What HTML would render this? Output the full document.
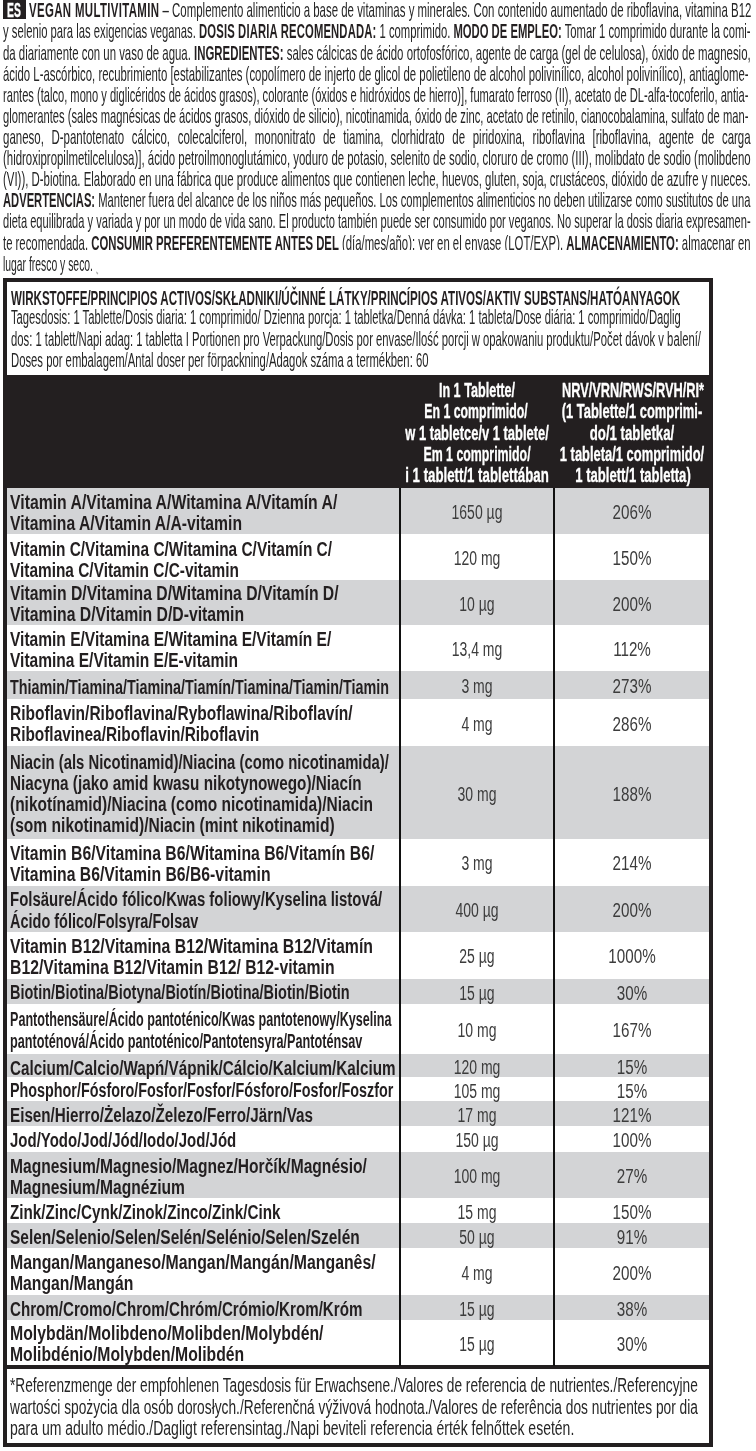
<!DOCTYPE html><html><head><meta charset="utf-8"><title>Vegan Multivitamin</title><style>
*{margin:0;padding:0;box-sizing:border-box}
html,body{width:756px;height:1451px;overflow:hidden;background:#fff}
body{position:relative;font-family:"Liberation Sans",sans-serif;color:#262626}
.ln{position:absolute;white-space:nowrap;transform-origin:0 0}
.ln b{font-weight:700;color:#231f20}
.rn{font-weight:700;color:#231f20}
.dk{font-weight:700;color:#fff;-webkit-text-stroke:0.35px #fff}
.vl{color:#3c3c3c}
.bg{position:absolute;left:7px;width:702px;background:#d3d4d6}
.blk{position:absolute;background:#231f20}
.vline{position:absolute;background:#111}
.wh{position:absolute;background:#fff}
</style></head><body>
<div class="blk" style="left:3px;top:0;width:22.5px;height:19.4px;"></div>
<div class="ln dk" style="left:7.0px;top:1.09px;font-size:19.5px;line-height:19.5px;transform:scaleX(0.53);">ES</div>
<div class="bg" style="top:487.50px;height:46.50px;"></div><div class="bg" style="top:580.20px;height:44.60px;"></div><div class="bg" style="top:671.30px;height:27.50px;"></div><div class="bg" style="top:746.00px;height:92.80px;"></div><div class="bg" style="top:885.70px;height:45.90px;"></div><div class="bg" style="top:978.70px;height:25.30px;"></div><div class="bg" style="top:1053.60px;height:23.90px;"></div><div class="bg" style="top:1101.20px;height:25.00px;"></div><div class="bg" style="top:1151.50px;height:46.70px;"></div><div class="bg" style="top:1223.00px;height:25.00px;"></div><div class="bg" style="top:1295.20px;height:24.90px;"></div>
<div class="blk" style="left:3px;top:375px;width:710px;height:112.5px;"></div>
<div class="blk" style="left:3px;top:278px;width:710px;height:4px;"></div>
<div class="blk" style="left:3px;top:278px;width:4px;height:1169px;"></div>
<div class="blk" style="left:709px;top:278px;width:4px;height:1169px;"></div>
<div class="blk" style="left:3px;top:1443px;width:710px;height:4px;"></div>
<div class="blk" style="left:3px;top:1365.3px;width:710px;height:4px;"></div>
<div class="vline" style="left:399px;top:487.5px;width:2px;height:878px;"></div>
<div class="vline" style="left:553px;top:487.5px;width:2px;height:878px;"></div>
<div class="ln pt" style="left:29.40px;top:1.34px;font-size:19.80px;line-height:19.80px;width:1249.16px;text-align:justify;text-align-last:justify;transform:scaleX(0.5783);"><b style="letter-spacing:0.60px">VEGAN MULTIVITAMIN</b> – Complemento alimenticio a base de vitaminas y minerales. Con contenido aumentado de riboflavina, vitamina B12</div>
<div class="ln pt" style="left:3.00px;top:22.24px;font-size:19.80px;line-height:19.80px;width:1312.73px;text-align:justify;text-align-last:justify;transform:scaleX(0.5695);">y selenio para las exigencias veganas. <b style="letter-spacing:0.27px">DOSIS DIARIA RECOMENDADA:</b> 1 comprimido. <b>MODO DE EMPLEO:</b> Tomar 1 comprimido durante la comi-</div>
<div class="ln pt" style="left:3.00px;top:43.64px;font-size:19.80px;line-height:19.80px;width:1295.31px;text-align:justify;text-align-last:justify;transform:scaleX(0.5772);">da diariamente con un vaso de agua. <b>INGREDIENTES:</b> sales cálcicas de ácido ortofosfórico, agente de carga (gel de celulosa), óxido de magnesio,</div>
<div class="ln pt" style="left:3.00px;top:65.04px;font-size:19.80px;line-height:19.80px;width:1297.47px;text-align:justify;text-align-last:justify;transform:scaleX(0.5746);">ácido L-ascórbico, recubrimiento [estabilizantes (copolímero de injerto de glicol de polietileno de alcohol polivinílico, alcohol polivinílico), antiaglome-</div>
<div class="ln pt" style="left:3.00px;top:85.84px;font-size:19.80px;line-height:19.80px;width:1325.98px;text-align:justify;text-align-last:justify;transform:scaleX(0.5622);">rantes (talco, mono y diglicéridos de ácidos grasos), colorante (óxidos e hidróxidos de hierro)], fumarato ferroso (II), acetato de DL-alfa-tocoferilo, antia-</div>
<div class="ln pt" style="left:3.00px;top:107.24px;font-size:19.80px;line-height:19.80px;width:1317.27px;text-align:justify;text-align-last:justify;transform:scaleX(0.5659);">glomerantes (sales magnésicas de ácidos grasos, dióxido de silicio), nicotinamida, óxido de zinc, acetato de retinilo, cianocobalamina, sulfato de man-</div>
<div class="ln pt" style="left:3.00px;top:127.94px;font-size:19.80px;line-height:19.80px;width:1288.97px;text-align:justify;text-align-last:justify;transform:scaleX(0.5800);">ganeso, D-pantotenato cálcico, colecalciferol, mononitrato de tiamina, clorhidrato de piridoxina, riboflavina [riboflavina, agente de carga</div>
<div class="ln pt" style="left:3.00px;top:149.34px;font-size:19.80px;line-height:19.80px;width:1294.16px;text-align:justify;text-align-last:justify;transform:scaleX(0.5777);">(hidroxipropilmetilcelulosa)], ácido petroilmonoglutámico, yoduro de potasio, selenito de sodio, cloruro de cromo (III), molibdato de sodio (molibdeno</div>
<div class="ln pt" style="left:3.00px;top:170.14px;font-size:19.80px;line-height:19.80px;width:1294.27px;text-align:justify;text-align-last:justify;transform:scaleX(0.5776);">(VI)), D-biotina. Elaborado en una fábrica que produce alimentos que contienen leche, huevos, gluten, soja, crustáceos, dióxido de azufre y nueces.</div>
<div class="ln pt" style="left:3.00px;top:190.84px;font-size:19.80px;line-height:19.80px;width:1320.53px;text-align:justify;text-align-last:justify;transform:scaleX(0.5661);"><b>ADVERTENCIAS:</b> Mantener fuera del alcance de los niños más pequeños. Los complementos alimenticios no deben utilizarse como sustitutos de una</div>
<div class="ln pt" style="left:3.00px;top:212.04px;font-size:19.80px;line-height:19.80px;width:1332.72px;text-align:justify;text-align-last:justify;transform:scaleX(0.5610);">dieta equilibrada y variada y por un modo de vida sano.  El producto también puede ser consumido por veganos. No superar la dosis diaria expresamen-</div>
<div class="ln pt" style="left:3.00px;top:233.54px;font-size:19.80px;line-height:19.80px;width:1304.83px;text-align:justify;text-align-last:justify;transform:scaleX(0.5729);">te recomendada. <b>CONSUMIR PREFERENTEMENTE ANTES DEL</b> (día/mes/año): ver en el envase (LOT/EXP). <b>ALMACENAMIENTO:</b> almacenar en</div>
<div class="ln pt" style="left:3.00px;top:255.44px;font-size:19.80px;line-height:19.80px;transform:scaleX(0.5247);">lugar fresco y seco.</div>
<div class="ln pt" style="left:10.80px;top:287.67px;font-size:20.00px;line-height:20.00px;width:1155.27px;text-align:justify;text-align-last:justify;transform:scaleX(0.5793);"><b>WIRKSTOFFE/PRINCIPIOS ACTIVOS/SKŁADNIKI/ÚČINNÉ LÁTKY/PRINCÍPIOS ATIVOS/AKTIV SUBSTANS/HATÓANYAGOK</b></div>
<div class="ln pt" style="left:10.80px;top:308.31px;font-size:19.60px;line-height:19.60px;width:1168.27px;text-align:justify;text-align-last:justify;transform:scaleX(0.5733);">Tagesdosis: 1 Tablette/Dosis diaria: 1 comprimido/ Dzienna porcja: 1 tabletka/Denná dávka: 1 tableta/Dose diária: 1 comprimido/Daglig</div>
<div class="ln pt" style="left:10.80px;top:329.51px;font-size:19.60px;line-height:19.60px;width:1200.31px;text-align:justify;text-align-last:justify;transform:scaleX(0.5748);">dos: 1 tablett/Napi adag: 1 tabletta I Portionen pro Verpackung/Dosis por envase/Ilość porcji w opakowaniu produktu/Počet dávok v balení/</div>
<div class="ln pt" style="left:10.80px;top:351.21px;font-size:19.60px;line-height:19.60px;transform:scaleX(0.5764);">Doses por embalagem/Antal doser per förpackning/Adagok száma a termékben: 60</div>
<div class="ln dk" style="left:276.90px;top:380.07px;width:400px;font-size:20.00px;line-height:20.00px;text-align:center;transform:scaleX(0.6310);transform-origin:50% 0;">In 1 Tablette/</div>
<div class="ln dk" style="left:276.25px;top:401.47px;width:400px;font-size:20.00px;line-height:20.00px;text-align:center;transform:scaleX(0.6168);transform-origin:50% 0;">En 1 comprimido/</div>
<div class="ln dk" style="left:276.55px;top:422.87px;width:400px;font-size:20.00px;line-height:20.00px;text-align:center;transform:scaleX(0.6454);transform-origin:50% 0;">w 1 tabletce/v 1 tablete/</div>
<div class="ln dk" style="left:276.90px;top:444.37px;width:400px;font-size:20.00px;line-height:20.00px;text-align:center;transform:scaleX(0.6183);transform-origin:50% 0;">Em 1 comprimido/</div>
<div class="ln dk" style="left:277.25px;top:465.27px;width:400px;font-size:20.00px;line-height:20.00px;text-align:center;transform:scaleX(0.6621);transform-origin:50% 0;">i 1 tablett/1 tablettában</div>
<div class="ln dk" style="left:432.50px;top:380.07px;width:400px;font-size:20.00px;line-height:20.00px;text-align:center;transform:scaleX(0.6398);transform-origin:50% 0;">NRV/VRN/RWS/RVH/RI*</div>
<div class="ln dk" style="left:432.20px;top:401.47px;width:400px;font-size:20.00px;line-height:20.00px;text-align:center;transform:scaleX(0.6457);transform-origin:50% 0;">(1 Tablette/1 comprimi-</div>
<div class="ln dk" style="left:431.55px;top:422.87px;width:400px;font-size:20.00px;line-height:20.00px;text-align:center;transform:scaleX(0.6611);transform-origin:50% 0;">do/1 tabletka/</div>
<div class="ln dk" style="left:432.15px;top:444.37px;width:400px;font-size:20.00px;line-height:20.00px;text-align:center;transform:scaleX(0.6460);transform-origin:50% 0;">1 tableta/1 comprimido/</div>
<div class="ln dk" style="left:432.75px;top:465.27px;width:400px;font-size:20.00px;line-height:20.00px;text-align:center;transform:scaleX(0.6536);transform-origin:50% 0;">1 tablett/1 tabletta)</div>
<div class="ln rn" style="left:10.30px;top:492.17px;font-size:20.00px;line-height:20.00px;transform:scaleX(0.7892);">Vitamin A/Vitamina A/Witamina A/Vitamín A/</div>
<div class="ln rn" style="left:10.30px;top:513.27px;font-size:20.00px;line-height:20.00px;transform:scaleX(0.7848);">Vitamina A/Vitamin A/A-vitamin</div>
<div class="ln vl" style="left:277.00px;top:501.92px;width:400px;font-size:20.00px;line-height:20.00px;text-align:center;transform:scaleX(0.7000);transform-origin:50% 0;">1650 µg</div>
<div class="ln vl" style="left:432.00px;top:501.92px;width:400px;font-size:20.00px;line-height:20.00px;text-align:center;transform:scaleX(0.7595);transform-origin:50% 0;">206%</div>
<div class="ln rn" style="left:10.30px;top:538.97px;font-size:20.00px;line-height:20.00px;transform:scaleX(0.7709);">Vitamin C/Vitamina C/Witamina C/Vitamín C/</div>
<div class="ln rn" style="left:10.30px;top:560.17px;font-size:20.00px;line-height:20.00px;transform:scaleX(0.7704);">Vitamina C/Vitamin C/C-vitamin</div>
<div class="ln vl" style="left:277.00px;top:548.27px;width:400px;font-size:20.00px;line-height:20.00px;text-align:center;transform:scaleX(0.7000);transform-origin:50% 0;">120 mg</div>
<div class="ln vl" style="left:432.00px;top:548.27px;width:400px;font-size:20.00px;line-height:20.00px;text-align:center;transform:scaleX(0.7595);transform-origin:50% 0;">150%</div>
<div class="ln rn" style="left:10.30px;top:582.67px;font-size:20.00px;line-height:20.00px;transform:scaleX(0.7867);">Vitamin D/Vitamina D/Witamina D/Vitamín D/</div>
<div class="ln rn" style="left:10.30px;top:603.77px;font-size:20.00px;line-height:20.00px;transform:scaleX(0.7879);">Vitamina D/Vitamin D/D-vitamin</div>
<div class="ln vl" style="left:277.00px;top:593.67px;width:400px;font-size:20.00px;line-height:20.00px;text-align:center;transform:scaleX(0.7000);transform-origin:50% 0;">10 µg</div>
<div class="ln vl" style="left:432.00px;top:593.67px;width:400px;font-size:20.00px;line-height:20.00px;text-align:center;transform:scaleX(0.7595);transform-origin:50% 0;">200%</div>
<div class="ln rn" style="left:10.30px;top:628.87px;font-size:20.00px;line-height:20.00px;transform:scaleX(0.7772);">Vitamin E/Vitamina E/Witamina E/Vitamín E/</div>
<div class="ln rn" style="left:10.30px;top:650.07px;font-size:20.00px;line-height:20.00px;transform:scaleX(0.7763);">Vitamina E/Vitamin E/E-vitamin</div>
<div class="ln vl" style="left:277.00px;top:639.22px;width:400px;font-size:20.00px;line-height:20.00px;text-align:center;transform:scaleX(0.7000);transform-origin:50% 0;">13,4 mg</div>
<div class="ln vl" style="left:432.00px;top:639.22px;width:400px;font-size:20.00px;line-height:20.00px;text-align:center;transform:scaleX(0.7595);transform-origin:50% 0;">112%</div>
<div class="ln rn" style="left:10.30px;top:676.57px;font-size:20.00px;line-height:20.00px;transform:scaleX(0.7177);">Thiamin/Tiamina/Tiamina/Tiamín/Tiamina/Tiamin/Tiamin</div>
<div class="ln vl" style="left:277.00px;top:676.22px;width:400px;font-size:20.00px;line-height:20.00px;text-align:center;transform:scaleX(0.7000);transform-origin:50% 0;">3 mg</div>
<div class="ln vl" style="left:432.00px;top:676.22px;width:400px;font-size:20.00px;line-height:20.00px;text-align:center;transform:scaleX(0.7595);transform-origin:50% 0;">273%</div>
<div class="ln rn" style="left:10.30px;top:702.97px;font-size:20.00px;line-height:20.00px;transform:scaleX(0.7766);">Riboflavin/Riboflavina/Ryboflawina/Riboflavín/</div>
<div class="ln rn" style="left:10.30px;top:724.17px;font-size:20.00px;line-height:20.00px;transform:scaleX(0.7706);">Riboflavinea/Riboflavin/Riboflavin</div>
<div class="ln vl" style="left:277.00px;top:713.57px;width:400px;font-size:20.00px;line-height:20.00px;text-align:center;transform:scaleX(0.7000);transform-origin:50% 0;">4 mg</div>
<div class="ln vl" style="left:432.00px;top:713.57px;width:400px;font-size:20.00px;line-height:20.00px;text-align:center;transform:scaleX(0.7595);transform-origin:50% 0;">286%</div>
<div class="ln rn" style="left:10.30px;top:751.87px;font-size:20.00px;line-height:20.00px;transform:scaleX(0.7428);">Niacin (als Nicotinamid)/Niacina (como nicotinamida)/</div>
<div class="ln rn" style="left:10.30px;top:773.07px;font-size:20.00px;line-height:20.00px;transform:scaleX(0.7641);">Niacyna (jako amid kwasu nikotynowego)/Niacín</div>
<div class="ln rn" style="left:10.30px;top:794.27px;font-size:20.00px;line-height:20.00px;transform:scaleX(0.7741);">(nikotínamid)/Niacina (como nicotinamida)/Niacin</div>
<div class="ln rn" style="left:10.30px;top:814.87px;font-size:20.00px;line-height:20.00px;transform:scaleX(0.7790);">(som nikotinamid)/Niacin (mint nikotinamid)</div>
<div class="ln vl" style="left:277.00px;top:783.57px;width:400px;font-size:20.00px;line-height:20.00px;text-align:center;transform:scaleX(0.7000);transform-origin:50% 0;">30 mg</div>
<div class="ln vl" style="left:432.00px;top:783.57px;width:400px;font-size:20.00px;line-height:20.00px;text-align:center;transform:scaleX(0.7595);transform-origin:50% 0;">188%</div>
<div class="ln rn" style="left:10.30px;top:843.17px;font-size:20.00px;line-height:20.00px;transform:scaleX(0.7882);">Vitamin B6/Vitamina B6/Witamina B6/Vitamín B6/</div>
<div class="ln rn" style="left:10.30px;top:864.37px;font-size:20.00px;line-height:20.00px;transform:scaleX(0.7885);">Vitamina B6/Vitamin B6/B6-vitamin</div>
<div class="ln vl" style="left:277.00px;top:853.42px;width:400px;font-size:20.00px;line-height:20.00px;text-align:center;transform:scaleX(0.7000);transform-origin:50% 0;">3 mg</div>
<div class="ln vl" style="left:432.00px;top:853.42px;width:400px;font-size:20.00px;line-height:20.00px;text-align:center;transform:scaleX(0.7595);transform-origin:50% 0;">214%</div>
<div class="ln rn" style="left:10.30px;top:888.97px;font-size:20.00px;line-height:20.00px;transform:scaleX(0.7475);">Folsäure/Ácido fólico/Kwas foliowy/Kyselina listová/</div>
<div class="ln rn" style="left:10.30px;top:910.87px;font-size:20.00px;line-height:20.00px;transform:scaleX(0.7241);">Ácido fólico/Folsyra/Folsav</div>
<div class="ln vl" style="left:277.00px;top:899.82px;width:400px;font-size:20.00px;line-height:20.00px;text-align:center;transform:scaleX(0.7000);transform-origin:50% 0;">400 µg</div>
<div class="ln vl" style="left:432.00px;top:899.82px;width:400px;font-size:20.00px;line-height:20.00px;text-align:center;transform:scaleX(0.7595);transform-origin:50% 0;">200%</div>
<div class="ln rn" style="left:10.30px;top:935.87px;font-size:20.00px;line-height:20.00px;transform:scaleX(0.7910);">Vitamin B12/Vitamina B12/Witamina B12/Vitamín</div>
<div class="ln rn" style="left:10.30px;top:956.97px;font-size:20.00px;line-height:20.00px;transform:scaleX(0.7885);">B12/Vitamina B12/Vitamin B12/ B12-vitamin</div>
<div class="ln vl" style="left:277.00px;top:946.32px;width:400px;font-size:20.00px;line-height:20.00px;text-align:center;transform:scaleX(0.7000);transform-origin:50% 0;">25 µg</div>
<div class="ln vl" style="left:432.00px;top:946.32px;width:400px;font-size:20.00px;line-height:20.00px;text-align:center;transform:scaleX(0.7595);transform-origin:50% 0;">1000%</div>
<div class="ln rn" style="left:10.30px;top:981.57px;font-size:20.00px;line-height:20.00px;transform:scaleX(0.7246);">Biotin/Biotina/Biotyna/Biotín/Biotina/Biotin/Biotin</div>
<div class="ln vl" style="left:277.00px;top:982.52px;width:400px;font-size:20.00px;line-height:20.00px;text-align:center;transform:scaleX(0.7000);transform-origin:50% 0;">15 µg</div>
<div class="ln vl" style="left:432.00px;top:982.52px;width:400px;font-size:20.00px;line-height:20.00px;text-align:center;transform:scaleX(0.7595);transform-origin:50% 0;">30%</div>
<div class="ln rn" style="left:10.30px;top:1008.87px;font-size:20.00px;line-height:20.00px;transform:scaleX(0.6299);">Pantothensäure/Ácido pantoténico/Kwas pantotenowy/Kyselina</div>
<div class="ln rn" style="left:10.30px;top:1030.57px;font-size:20.00px;line-height:20.00px;transform:scaleX(0.6342);">pantoténová/Ácido pantoténico/Pantotensyra/Pantoténsav</div>
<div class="ln vl" style="left:277.00px;top:1019.97px;width:400px;font-size:20.00px;line-height:20.00px;text-align:center;transform:scaleX(0.7000);transform-origin:50% 0;">10 mg</div>
<div class="ln vl" style="left:432.00px;top:1019.97px;width:400px;font-size:20.00px;line-height:20.00px;text-align:center;transform:scaleX(0.7595);transform-origin:50% 0;">167%</div>
<div class="ln rn" style="left:10.30px;top:1057.57px;font-size:20.00px;line-height:20.00px;transform:scaleX(0.7618);">Calcium/Calcio/Wapń/Vápnik/Cálcio/Kalcium/Kalcium</div>
<div class="ln vl" style="left:277.00px;top:1056.72px;width:400px;font-size:20.00px;line-height:20.00px;text-align:center;transform:scaleX(0.7000);transform-origin:50% 0;">120 mg</div>
<div class="ln vl" style="left:432.00px;top:1056.72px;width:400px;font-size:20.00px;line-height:20.00px;text-align:center;transform:scaleX(0.7595);transform-origin:50% 0;">15%</div>
<div class="ln rn" style="left:10.30px;top:1080.37px;font-size:20.00px;line-height:20.00px;transform:scaleX(0.7174);">Phosphor/Fósforo/Fosfor/Fosfor/Fósforo/Fosfor/Foszfor</div>
<div class="ln vl" style="left:277.00px;top:1080.52px;width:400px;font-size:20.00px;line-height:20.00px;text-align:center;transform:scaleX(0.7000);transform-origin:50% 0;">105 mg</div>
<div class="ln vl" style="left:432.00px;top:1080.52px;width:400px;font-size:20.00px;line-height:20.00px;text-align:center;transform:scaleX(0.7595);transform-origin:50% 0;">15%</div>
<div class="ln rn" style="left:10.30px;top:1104.67px;font-size:20.00px;line-height:20.00px;transform:scaleX(0.7612);">Eisen/Hierro/Żelazo/Železo/Ferro/Järn/Vas</div>
<div class="ln vl" style="left:277.00px;top:1104.87px;width:400px;font-size:20.00px;line-height:20.00px;text-align:center;transform:scaleX(0.7000);transform-origin:50% 0;">17 mg</div>
<div class="ln vl" style="left:432.00px;top:1104.87px;width:400px;font-size:20.00px;line-height:20.00px;text-align:center;transform:scaleX(0.7595);transform-origin:50% 0;">121%</div>
<div class="ln rn" style="left:10.30px;top:1130.07px;font-size:20.00px;line-height:20.00px;transform:scaleX(0.7494);">Jod/Yodo/Jod/Jód/Iodo/Jod/Jód</div>
<div class="ln vl" style="left:277.00px;top:1130.02px;width:400px;font-size:20.00px;line-height:20.00px;text-align:center;transform:scaleX(0.7000);transform-origin:50% 0;">150 µg</div>
<div class="ln vl" style="left:432.00px;top:1130.02px;width:400px;font-size:20.00px;line-height:20.00px;text-align:center;transform:scaleX(0.7595);transform-origin:50% 0;">100%</div>
<div class="ln rn" style="left:10.30px;top:1155.77px;font-size:20.00px;line-height:20.00px;transform:scaleX(0.7795);">Magnesium/Magnesio/Magnez/Horčík/Magnésio/</div>
<div class="ln rn" style="left:10.30px;top:1176.67px;font-size:20.00px;line-height:20.00px;transform:scaleX(0.7791);">Magnesium/Magnézium</div>
<div class="ln vl" style="left:277.00px;top:1166.02px;width:400px;font-size:20.00px;line-height:20.00px;text-align:center;transform:scaleX(0.7000);transform-origin:50% 0;">100 mg</div>
<div class="ln vl" style="left:432.00px;top:1166.02px;width:400px;font-size:20.00px;line-height:20.00px;text-align:center;transform:scaleX(0.7595);transform-origin:50% 0;">27%</div>
<div class="ln rn" style="left:10.30px;top:1201.97px;font-size:20.00px;line-height:20.00px;transform:scaleX(0.7604);">Zink/Zinc/Cynk/Zinok/Zinco/Zink/Cink</div>
<div class="ln vl" style="left:277.00px;top:1201.77px;width:400px;font-size:20.00px;line-height:20.00px;text-align:center;transform:scaleX(0.7000);transform-origin:50% 0;">15 mg</div>
<div class="ln vl" style="left:432.00px;top:1201.77px;width:400px;font-size:20.00px;line-height:20.00px;text-align:center;transform:scaleX(0.7595);transform-origin:50% 0;">150%</div>
<div class="ln rn" style="left:10.30px;top:1227.17px;font-size:20.00px;line-height:20.00px;transform:scaleX(0.7730);">Selen/Selenio/Selen/Selén/Selénio/Selen/Szelén</div>
<div class="ln vl" style="left:277.00px;top:1226.67px;width:400px;font-size:20.00px;line-height:20.00px;text-align:center;transform:scaleX(0.7000);transform-origin:50% 0;">50 µg</div>
<div class="ln vl" style="left:432.00px;top:1226.67px;width:400px;font-size:20.00px;line-height:20.00px;text-align:center;transform:scaleX(0.7595);transform-origin:50% 0;">91%</div>
<div class="ln rn" style="left:10.30px;top:1252.27px;font-size:20.00px;line-height:20.00px;transform:scaleX(0.7909);">Mangan/Manganeso/Mangan/Mangán/Manganês/</div>
<div class="ln rn" style="left:10.30px;top:1272.67px;font-size:20.00px;line-height:20.00px;transform:scaleX(0.7870);">Mangan/Mangán</div>
<div class="ln vl" style="left:277.00px;top:1262.77px;width:400px;font-size:20.00px;line-height:20.00px;text-align:center;transform:scaleX(0.7000);transform-origin:50% 0;">4 mg</div>
<div class="ln vl" style="left:432.00px;top:1262.77px;width:400px;font-size:20.00px;line-height:20.00px;text-align:center;transform:scaleX(0.7595);transform-origin:50% 0;">200%</div>
<div class="ln rn" style="left:10.30px;top:1299.27px;font-size:20.00px;line-height:20.00px;transform:scaleX(0.7569);">Chrom/Cromo/Chrom/Chróm/Crómio/Krom/Króm</div>
<div class="ln vl" style="left:277.00px;top:1298.82px;width:400px;font-size:20.00px;line-height:20.00px;text-align:center;transform:scaleX(0.7000);transform-origin:50% 0;">15 µg</div>
<div class="ln vl" style="left:432.00px;top:1298.82px;width:400px;font-size:20.00px;line-height:20.00px;text-align:center;transform:scaleX(0.7595);transform-origin:50% 0;">38%</div>
<div class="ln rn" style="left:10.30px;top:1323.07px;font-size:20.00px;line-height:20.00px;transform:scaleX(0.7904);">Molybdän/Molibdeno/Molibden/Molybdén/</div>
<div class="ln rn" style="left:10.30px;top:1344.17px;font-size:20.00px;line-height:20.00px;transform:scaleX(0.7862);">Molibdénio/Molybden/Molibdén</div>
<div class="ln vl" style="left:277.00px;top:1333.87px;width:400px;font-size:20.00px;line-height:20.00px;text-align:center;transform:scaleX(0.7000);transform-origin:50% 0;">15 µg</div>
<div class="ln vl" style="left:432.00px;top:1333.87px;width:400px;font-size:20.00px;line-height:20.00px;text-align:center;transform:scaleX(0.7595);transform-origin:50% 0;">30%</div>
<div class="ln pt" style="left:10.20px;top:1375.71px;font-size:19.60px;line-height:19.60px;width:984.98px;text-align:justify;text-align-last:justify;transform:scaleX(0.6983);">*Referenzmenge der empfohlenen Tagesdosis für Erwachsene./Valores de referencia de nutrientes./Referencyjne</div>
<div class="ln pt" style="left:10.10px;top:1398.11px;font-size:19.60px;line-height:19.60px;width:980.95px;text-align:justify;text-align-last:justify;transform:scaleX(0.7013);">wartości spożycia dla osób dorosłych./Referenčná výživová hodnota./Valores de referência dos nutrientes por dia</div>
<div class="ln pt" style="left:10.10px;top:1418.51px;font-size:19.60px;line-height:19.60px;transform:scaleX(0.7146);">para um adulto médio./Dagligt referensintag./Napi beviteli referencia érték felnőttek esetén.</div>
<div class="wh" style="left:342px;top:250.2px;width:220px;height:5px;"></div>
<div style="position:absolute;left:95px;top:271.6px;width:0;height:0;border-left:3px solid transparent;border-top:2.6px solid #8a8a8a;transform:rotate(35deg);opacity:.8"></div>
</body></html>
